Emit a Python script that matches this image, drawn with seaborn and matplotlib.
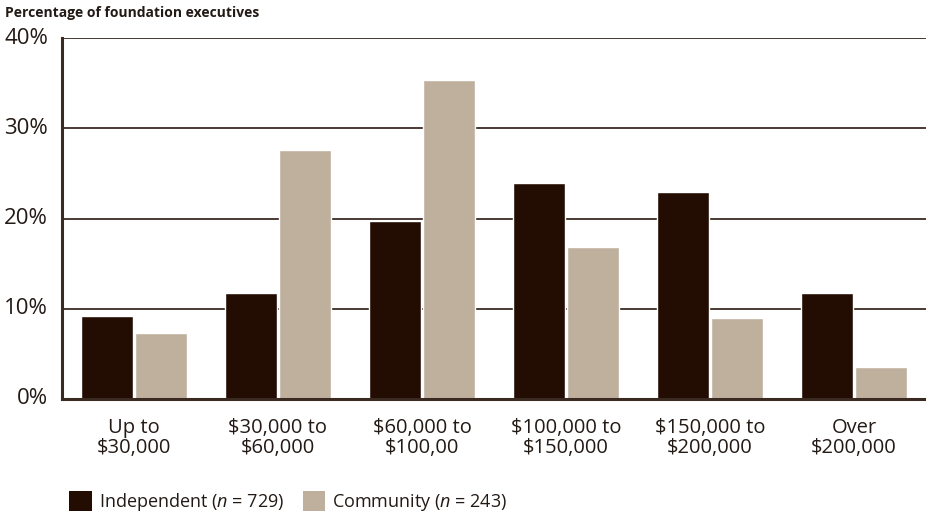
import matplotlib
matplotlib.use("Agg")
import matplotlib.pyplot as plt
import seaborn as sns
import pandas as pd
from matplotlib.patches import Patch

categories = ["Up to\n$30,000", "$30,000 to\n$60,000", "$60,000 to\n$100,00",
              "$100,000 to\n$150,000", "$150,000 to\n$200,000", "Over\n$200,000"]
independent = [9.2, 11.7, 19.7, 23.9, 22.9, 11.7]
community = [7.3, 27.6, 35.3, 16.8, 9.0, 3.5]
series = ["Independent", "Community"]
yticks = [0, 10, 20, 30, 40]
ytick_labels = ["0%", "10%", "20%", "30%", "40%"]

df = pd.DataFrame({
    "cat": categories * 2,
    "val": independent + community,
    "series": [series[0]] * len(categories) + [series[1]] * len(categories),
})

sns.set_theme(style="white")
plt.rcParams["font.family"] = ["Open Sans", "DejaVu Sans"]
plt.rcParams["mathtext.fontset"] = "custom"
plt.rcParams["mathtext.it"] = "Open Sans:italic"
plt.rcParams["mathtext.rm"] = "Open Sans"

dark = "#230d02"
tan = "#bfb09e"
linec = "#3a2a22"
txtc = "#231a15"

fig = plt.figure(figsize=(9.26, 5.18), dpi=100)
ax = fig.add_axes([62/926, 1 - 399/518, 864/926, 361/518])
ax.set_axisbelow(True)
for y in [10, 20, 30, 40]:
    ax.axhline(y, color=linec, lw=1.3, zorder=0)

sns.barplot(data=df, x="cat", y="val", hue="series", order=categories,
            hue_order=series, palette=[dark, tan], width=0.757, gap=0.05,
            saturation=1, legend=False, ax=ax, zorder=2)

ax.set_xlim(-0.5, 5.5)
ax.set_ylim(0, 40)
ax.set_yticks(yticks)
ax.set_yticklabels(ytick_labels, fontsize=16, color=txtc)
ax.tick_params(axis="x", labelsize=14.5, colors=txtc, length=0, pad=14)
ax.tick_params(axis="y", length=0, pad=10)
for lbl in ax.get_yticklabels():
    lbl.set_verticalalignment("center")
for lbl in ax.get_xticklabels():
    lbl.set_linespacing(1.0)
ax.set_xlabel("")
ax.set_ylabel("")
for s in ["top", "right"]:
    ax.spines[s].set_visible(False)
for s in ["left", "bottom"]:
    ax.spines[s].set_color(linec)
    ax.spines[s].set_linewidth(2.2)

fig.text(5/926, 1 - 13/518, "Percentage of foundation executives", fontsize=10,
         fontweight="bold", color=txtc, va="center", ha="left")

handles = [Patch(facecolor=dark, edgecolor="none"), Patch(facecolor=tan, edgecolor="none")]
labels = [r"Independent ($n$ = 729)", r"Community ($n$ = 243)"]
fig.legend(handles, labels, loc="center left", bbox_to_anchor=(53/926, 1 - 502/518),
           ncol=2, frameon=False, fontsize=13, handlelength=1.25, handleheight=1.3,
           handletextpad=0.4, columnspacing=1.0, labelcolor=txtc)

fig.savefig("out.png", dpi=100)
